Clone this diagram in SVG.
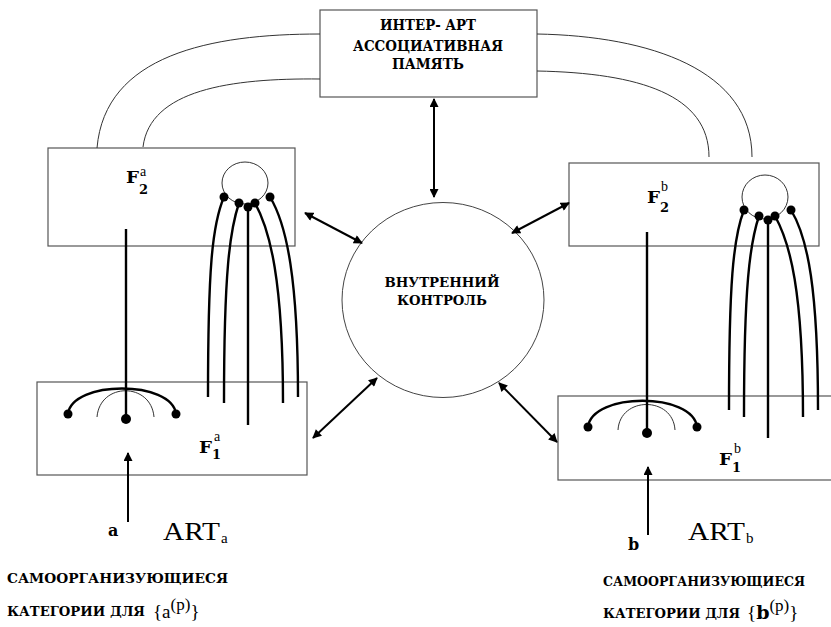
<svg xmlns="http://www.w3.org/2000/svg" width="831" height="627" viewBox="0 0 831 627">
<style>
.box{fill:#fff;stroke:#555;stroke-width:1.2}
.thin{fill:none;stroke:#333;stroke-width:1}
.thick{fill:none;stroke:#000;stroke-width:2.4}
.arr{fill:none;stroke:#000;stroke-width:2}
.dot{fill:#000}
.lbl{font-family:"DejaVu Serif","Liberation Serif",serif;font-weight:bold;fill:#000}
.ser{font-family:"Liberation Serif","Times New Roman",serif;fill:#000}
</style>
<defs>
<marker id="ah" viewBox="0 0 10 10" refX="9" refY="5" markerWidth="10" markerHeight="9" markerUnits="userSpaceOnUse" orient="auto-start-reverse">
<path d="M0,0 L10,5 L0,10 z" fill="#000"/>
</marker>
</defs>

<g id="inter-art">
<rect class="box" x="320" y="10" width="217" height="87"/>
<text class="lbl" font-size="14" x="428" y="30" text-anchor="middle" textLength="96" lengthAdjust="spacingAndGlyphs">ИНТЕР- АРТ</text>
<text class="lbl" font-size="14" x="428" y="51" text-anchor="middle" textLength="150" lengthAdjust="spacingAndGlyphs">АССОЦИАТИВНАЯ</text>
<text class="lbl" font-size="14" x="428" y="69" text-anchor="middle" textLength="72" lengthAdjust="spacingAndGlyphs">ПАМЯТЬ</text>
</g>

<g id="control">
<ellipse cx="443" cy="300" rx="101" ry="97.5" fill="#fff" stroke="#444" stroke-width="1"/>
<text class="lbl" font-size="13.5" x="442" y="287" text-anchor="middle" textLength="115" lengthAdjust="spacingAndGlyphs">ВНУТРЕННИЙ</text>
<text class="lbl" font-size="13.5" x="442" y="305" text-anchor="middle" textLength="90" lengthAdjust="spacingAndGlyphs">КОНТРОЛЬ</text>
</g>

<g id="f2a">
<rect class="box" x="48" y="148" width="247" height="98"/>
<text class="lbl" font-size="17" x="126" y="183" textLength="13" lengthAdjust="spacingAndGlyphs">F</text>
<text class="lbl" font-size="13" x="139" y="194">2</text>
<text class="ser" font-size="14" x="140" y="176">a</text>
<ellipse class="thin" cx="245" cy="183" rx="23" ry="21"/>
</g>

<g id="f1a">
<rect class="box" x="37" y="382" width="270" height="93"/>
<text class="lbl" font-size="17" x="199" y="453" textLength="13" lengthAdjust="spacingAndGlyphs">F</text>
<text class="lbl" font-size="13" x="212" y="459">1</text>
<text class="ser" font-size="14" x="214" y="441">a</text>
<path class="thick" d="M68,414 C72,380 172,380 176,414"/>
<path class="thin" d="M97,417 C100,382 151,382 154,417"/>
<circle class="dot" cx="68" cy="414" r="4.5"/>
<circle class="dot" cx="176" cy="414" r="4.5"/>
</g>

<g id="f2b">
<rect class="box" x="569" y="163" width="250" height="83"/>
<text class="lbl" font-size="17" x="647" y="203" textLength="13" lengthAdjust="spacingAndGlyphs">F</text>
<text class="lbl" font-size="13" x="660" y="212">2</text>
<text class="ser" font-size="14" x="661" y="191">b</text>
<ellipse class="thin" cx="765" cy="197" rx="23" ry="22"/>
</g>

<g id="f1b">
<rect class="box" x="558" y="396" width="280" height="84"/>
<text class="lbl" font-size="17" x="719" y="465" textLength="13" lengthAdjust="spacingAndGlyphs">F</text>
<text class="lbl" font-size="13" x="732" y="472">1</text>
<text class="ser" font-size="14" x="734" y="453">b</text>
<path class="thick" d="M588,427 C592,392 693,392 697,427"/>
<path class="thin" d="M618,430 C620,396 673,396 675,430"/>
<circle class="dot" cx="588" cy="427" r="4.5"/>
<circle class="dot" cx="697" cy="427" r="4.5"/>
</g>

<g id="links-a">
<line class="thick" x1="126" y1="229" x2="126" y2="419"/>
<circle class="dot" cx="126" cy="419" r="5"/>
<path class="thick" d="M224,197 C212,225 208,270 208,397"/>
<path class="thick" d="M239,203 C230,230 224,270 224,403"/>
<line class="thick" x1="248" y1="207" x2="248" y2="425"/>
<path class="thick" d="M255,203 C270,230 283,280 283,403"/>
<path class="thick" d="M270,197 C287,225 298,280 298,397"/>
<circle class="dot" cx="224" cy="197" r="4.5"/>
<circle class="dot" cx="239" cy="203" r="4.5"/>
<circle class="dot" cx="248" cy="207" r="4.5"/>
<circle class="dot" cx="255" cy="203" r="4.5"/>
<circle class="dot" cx="270" cy="197" r="4.5"/>
</g>

<g id="links-b">
<line class="thick" x1="647" y1="232" x2="647" y2="433"/>
<circle class="dot" cx="647" cy="433" r="5"/>
<path class="thick" d="M744,210 C733,238 729,285 729,410"/>
<path class="thick" d="M759,216 C750,243 744,285 744,417"/>
<line class="thick" x1="768" y1="220" x2="768" y2="438"/>
<path class="thick" d="M775,216 C790,243 803,290 803,417"/>
<path class="thick" d="M791,210 C808,238 818,290 818,410"/>
<circle class="dot" cx="744" cy="210" r="4.5"/>
<circle class="dot" cx="759" cy="216" r="4.5"/>
<circle class="dot" cx="768" cy="220" r="4.5"/>
<circle class="dot" cx="775" cy="216" r="4.5"/>
<circle class="dot" cx="791" cy="210" r="4.5"/>
</g>

<g id="connectors">
<path class="thin" d="M320,34 C210,34 105,55 97,148"/>
<path class="thin" d="M320,79 C230,78 150,90 143,147"/>
<path class="thin" d="M537,34 C650,36 752,70 752,157"/>
<path class="thin" d="M537,71 C640,73 709,95 709,157"/>
<line class="arr" x1="434" y1="99" x2="434" y2="197" marker-start="url(#ah)" marker-end="url(#ah)"/>
<line class="arr" x1="305" y1="213" x2="362" y2="243" marker-start="url(#ah)" marker-end="url(#ah)"/>
<line class="arr" x1="512" y1="233" x2="569" y2="203" marker-start="url(#ah)" marker-end="url(#ah)"/>
<line class="arr" x1="377" y1="378" x2="313" y2="438" marker-start="url(#ah)" marker-end="url(#ah)"/>
<line class="arr" x1="499" y1="383" x2="557" y2="442" marker-start="url(#ah)" marker-end="url(#ah)"/>
<line class="arr" x1="128" y1="522" x2="128" y2="453" stroke-width="2.6" marker-end="url(#ah)"/>
<line class="arr" x1="648" y1="535" x2="648" y2="467" stroke-width="2.6" marker-end="url(#ah)"/>
</g>

<g id="label-a">
<text class="lbl" font-size="16" x="108" y="536">a</text>
<text class="ser" font-size="25" x="163" y="540" textLength="57" lengthAdjust="spacingAndGlyphs">ART</text>
<text class="ser" font-size="15" x="221" y="543">a</text>
<text class="lbl" font-size="13.5" x="7" y="583" textLength="221" lengthAdjust="spacingAndGlyphs">САМООРГАНИЗУЮЩИЕСЯ</text>
<text class="lbl" font-size="13.5" x="7" y="616" textLength="138" lengthAdjust="spacingAndGlyphs">КАТЕГОРИИ ДЛЯ</text>
<text class="ser" font-size="19" x="153" y="618">{a<tspan font-size="17" dy="-8">(p)</tspan><tspan font-size="19" dy="8">}</tspan></text>
</g>

<g id="label-b">
<text class="lbl" font-size="16" x="628" y="550">b</text>
<text class="ser" font-size="25" x="688" y="540" textLength="57" lengthAdjust="spacingAndGlyphs">ART</text>
<text class="ser" font-size="15" x="746" y="543">b</text>
<text class="lbl" font-size="13.5" x="603" y="586" textLength="202" lengthAdjust="spacingAndGlyphs">САМООРГАНИЗУЮЩИЕСЯ</text>
<text class="lbl" font-size="13.5" x="603" y="618" textLength="137" lengthAdjust="spacingAndGlyphs">КАТЕГОРИИ ДЛЯ</text>
<text class="ser" font-size="19" x="747" y="619">{<tspan class="lbl" font-size="19">b</tspan><tspan font-size="17" dy="-8">(p)</tspan><tspan font-size="19" dy="8">}</tspan></text>
</g>
</svg>
